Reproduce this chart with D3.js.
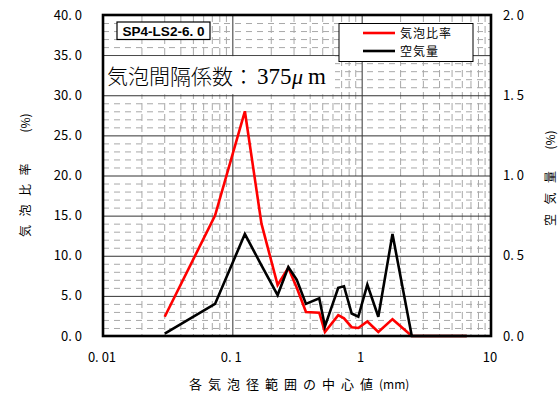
<!DOCTYPE html>
<html>
<head>
<meta charset="utf-8">
<script src="https://cdn.jsdelivr.net/npm/d3@7"></script>
<style>
  html, body { margin: 0; padding: 0; background: #fff; }
  svg { display: block; }
  text { font-family: "Noto Sans CJK JP", "DejaVu Sans", sans-serif; fill: #000; }
</style>
</head>
<body>
<svg id="chart" width="559" height="394"></svg>
<script>
// Centre value of each bubble-diameter class (mm)
const sizes = [0.03, 0.0735, 0.125, 0.168, 0.224, 0.271, 0.315, 0.371, 0.47, 0.52,
               0.659, 0.73, 0.837, 0.942, 1.106, 1.345, 1.731, 2.44, 3.5, 4.5, 6.5];
// 気泡比率 (%), left axis
const bubbleRatio = [2.4, 15.0, 28.0, 14.0, 6.35, 8.5, 6.0, 3.0, 2.9, 0.5,
                     2.6, 2.2, 1.1, 1.0, 1.8, 0.5, 2.1, 0, 0, 0, 0];
// 空気量 (%), right axis
const airContent = [0.015, 0.20, 0.635, 0.44, 0.255, 0.43, 0.35, 0.20, 0.235, 0.06,
                    0.30, 0.31, 0.14, 0.12, 0.32, 0.12, 0.635, 0, 0, 0, 0];

const xTicks = [0.01, 0.1, 1, 10];
const xTickLabels = ["0. 01", "0. 1", "1", "10"];
const leftTicks = [0, 5, 10, 15, 20, 25, 30, 35, 40];
const leftTickLabels = ["0. 0", "5. 0", "10. 0", "15. 0", "20. 0", "25. 0", "30. 0", "35. 0", "40. 0"];
const rightTicks = [0, 0.5, 1.0, 1.5, 2.0];
const rightTickLabels = ["0. 0", "0. 5", "1. 0", "1. 5", "2. 0"];

const seriesNames = ["気泡比率", "空気量"];
const seriesColors = ["#ff0000", "#000000"];
const sampleLabel = "SP4-LS2-6. 0";
const spacingFactorLabel = "気泡間隔係数";
const spacingFactorValue = "375";

const svg = d3.select("#chart");
const L = 103, R = 491, T = 15, B = 336;

const x = d3.scaleLog().domain([0.01, 10]).range([L, R]);
const yL = d3.scaleLinear().domain([0, 40]).range([B, T]);
const yR = d3.scaleLinear().domain([0, 2.0]).range([B, T]);

// Grid: minor dashed lines
const g = svg.append("g");
const minorX = [];
for (let e = -2; e < 1; e++) for (let m = 2; m <= 9; m++) minorX.push(m * Math.pow(10, e));
g.selectAll(".mx").data(minorX).join("line")
  .attr("x1", d => x(d)).attr("x2", d => x(d)).attr("y1", T).attr("y2", B)
  .attr("stroke", "#a8a8a8").attr("stroke-width", 1).attr("stroke-dasharray", "7,4");
const minorY = d3.range(1, 40).filter(v => v % 5 !== 0);
g.selectAll(".my").data(minorY).join("line")
  .attr("x1", L).attr("x2", R).attr("y1", d => yL(d) + 0.5).attr("y2", d => yL(d) + 0.5)
  .attr("stroke", "#a8a8a8").attr("stroke-width", 1).attr("stroke-dasharray", "6,5");
// Major solid lines
g.selectAll(".MX").data([0.1, 1]).join("line")
  .attr("x1", d => x(d) + 0.5).attr("x2", d => x(d) + 0.5).attr("y1", T).attr("y2", B)
  .attr("stroke", "#333").attr("stroke-width", 1);
g.selectAll(".MY").data(leftTicks.slice(1, -1)).join("line")
  .attr("x1", L).attr("x2", R).attr("y1", d => yL(d) + 0.5).attr("y2", d => yL(d) + 0.5)
  .attr("stroke", "#333").attr("stroke-width", 1);

// Spacing-factor annotation on a white band
svg.append("rect").attr("x", L).attr("y", yL(35) + 1).attr("width", 232).attr("height", yL(30) - yL(35) - 2)
  .attr("fill", "#fff");
const ann = svg.append("text").attr("x", 107).attr("y", 84)
  .style("font-size", "21px").style("font-weight", 300);
ann.append("tspan").text(spacingFactorLabel);
ann.append("tspan").text("：").attr("x", 233);
ann.append("tspan").text(spacingFactorValue).attr("x", 257)
  .style("font-family", "'Liberation Serif', serif").style("font-size", "23px").style("font-weight", 400);
ann.append("tspan").text("μ").attr("x", 292)
  .style("font-family", "'Liberation Serif', serif").style("font-style", "italic").style("font-size", "22px");
ann.append("tspan").text("m").attr("x", 308)
  .style("font-family", "'Liberation Serif', serif").style("font-size", "23px");

// Sample label box
svg.append("rect").attr("x", 117).attr("y", 22).attr("width", 93).attr("height", 17.5)
  .attr("fill", "#fff").attr("stroke", "#000").attr("stroke-width", 1.2);
svg.append("text").attr("x", 163.5).attr("y", 35.5).attr("text-anchor", "middle")
  .style("font-family", "'Liberation Sans', sans-serif").style("font-weight", "bold").style("font-size", "12.5px")
  .attr("textLength", 82).attr("lengthAdjust", "spacingAndGlyphs")
  .text(sampleLabel);

// Series lines
const lineL = d3.line().x((d, i) => x(sizes[i])).y(d => yL(d));
const lineR = d3.line().x((d, i) => x(sizes[i])).y(d => yR(d));
svg.append("path").attr("d", lineL(bubbleRatio)).attr("fill", "none")
  .attr("stroke", seriesColors[0]).attr("stroke-width", 2.6).attr("stroke-linejoin", "miter");
svg.append("path").attr("d", lineR(airContent)).attr("fill", "none")
  .attr("stroke", seriesColors[1]).attr("stroke-width", 2.6).attr("stroke-linejoin", "miter");

// Frame
svg.append("rect").attr("x", L).attr("y", T).attr("width", R - L).attr("height", B - T)
  .attr("fill", "none").attr("stroke", "#000").attr("stroke-width", 2.6);

// Legend
const lg = svg.append("g");
lg.append("rect").attr("x", 339).attr("y", 23.5).attr("width", 134).attr("height", 38)
  .attr("fill", "#fff").attr("stroke", "#000").attr("stroke-width", 1);
seriesNames.forEach((name, i) => {
  const yy = 33 + i * 18;
  lg.append("line").attr("x1", 363).attr("x2", 395).attr("y1", yy).attr("y2", yy)
    .attr("stroke", seriesColors[i]).attr("stroke-width", 2.6);
  lg.append("text").attr("x", 400).attr("y", yy + 4.5).style("font-size", "12px")
    .style("letter-spacing", "1px").text(name);
});

// Tick labels
const tickFont = "'Noto Sans CJK JP', sans-serif";
svg.selectAll(".lt").data(leftTicks).join("text")
  .attr("x", 82).attr("y", d => yL(d) + 4.5).attr("text-anchor", "end")
  .style("font-size", "13px").style("font-family", tickFont)
  .text((d, i) => leftTickLabels[i]);
svg.selectAll(".rt").data(rightTicks).join("text")
  .attr("x", 503).attr("y", d => yR(d) + 4.5).attr("text-anchor", "start")
  .style("font-size", "13px").style("font-family", tickFont)
  .text((d, i) => rightTickLabels[i]);
svg.selectAll(".xt").data(xTicks).join("text")
  .attr("x", d => x(d) - 1).attr("y", 361.5).attr("text-anchor", "middle")
  .style("font-size", "13px").style("font-family", tickFont)
  .text((d, i) => xTickLabels[i]);

// Axis titles
const xt = svg.append("text").attr("x", 189).attr("y", 389).style("font-size", "13px");
xt.append("tspan").text("各気泡径範囲の中心値").style("letter-spacing", "6px");
xt.append("tspan").text("(mm)").style("font-size", "12px");

function vTitle(cx, bottomY, chars, step, unitY) {
  const gg = svg.append("g");
  chars.forEach((c, i) => {
    const cy = bottomY - i * step;
    gg.append("text").attr("transform", `translate(${cx},${cy}) rotate(-90)`)
      .attr("text-anchor", "middle").attr("dy", "0.35em").style("font-size", "12px").text(c);
  });
  gg.append("text").attr("transform", `translate(${cx},${unitY}) rotate(-90)`)
    .attr("text-anchor", "middle").attr("dy", "0.35em").style("font-size", "12px").text("(%)");
}
vTitle(26, 231, ["気", "泡", "比", "率"], 20.5, 123);
vTitle(551, 220, ["空", "気", "量"], 21.5, 140);
</script>
</body>
</html>
